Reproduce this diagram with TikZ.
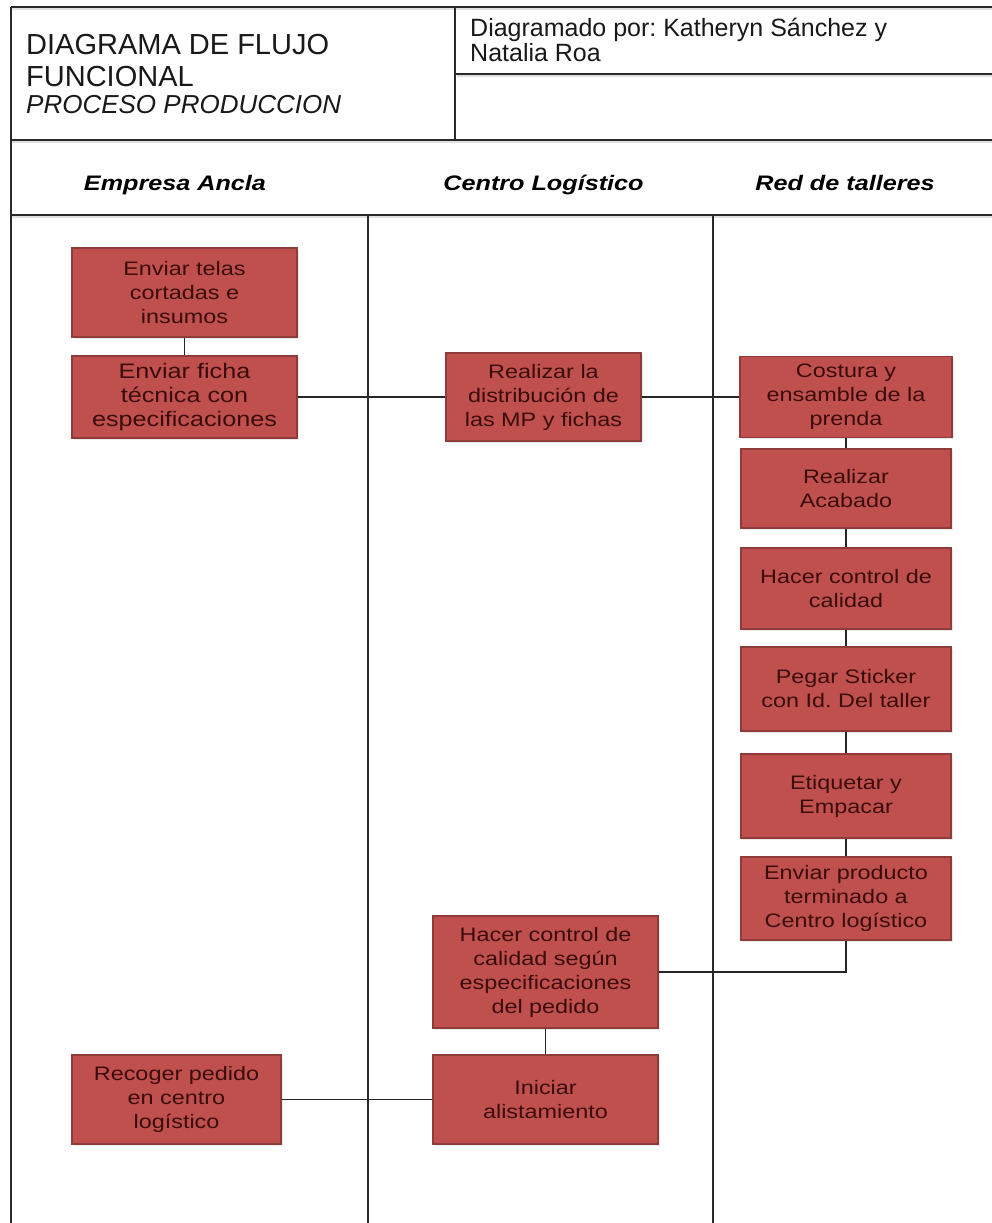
\documentclass[tikz,border=0pt]{standalone}
\usepackage{fontspec}
\setmainfont{Liberation Sans}
\newfontfamily\boxfont[FakeStretch=1.2]{Liberation Sans}
\newfontfamily\lanefont[FakeStretch=1.2]{Liberation Sans}
\usetikzlibrary{shadows}
\definecolor{boxfill}{HTML}{C0504D}
\definecolor{boxline}{HTML}{8E3B39}
\definecolor{boxtext}{HTML}{3A0C0C}
\definecolor{ruleclr}{HTML}{2A2A2A}
\frenchspacing
\begin{document}
\begin{tikzpicture}[x=1pt,y=-1pt,
  hdrline/.style={draw=ruleclr, line width=1.8pt},
  laneline/.style={draw=ruleclr, line width=1.4pt},
  haze/.style={draw=black!12, line width=2pt},
  stepbox/.style={draw=boxline, fill=boxfill, line width=1.5pt, text=boxtext,
    align=center, inner sep=0pt,
    font=\boxfont\fontsize{19.5}{24}\selectfont,
    drop shadow={shadow xshift=1.5pt, shadow yshift=-1.5pt, opacity=0.18}},
  link/.style={draw=black!85, line width=1.3pt},
  titletxt/.style={anchor=base west, inner sep=0pt, text=black!90},
  lanetxt/.style={anchor=base, inner sep=0pt,
    font=\lanefont\bfseries\itshape\fontsize{21}{24}\selectfont}]

\useasboundingbox (0,0) rectangle (992,1223);
\fill[white] (0,0) rectangle (992,1223);

% soft shading under the frame rules
\draw[haze] (12,8.8) -- (992,8.8);
\draw[haze] (12,141.8) -- (992,141.8);
\draw[haze] (12,216.8) -- (992,216.8);
\draw[haze] (457,75.8) -- (992,75.8);

% header frame
\draw[hdrline] (11,7) -- (992,7);
\draw[hdrline] (11,140) -- (992,140);
\draw[hdrline] (11,215) -- (992,215);
\draw[hdrline] (455,7) -- (455,140);
\draw[hdrline] (455,74) -- (992,74);
\draw[hdrline] (11,7) -- (11,1223);

% swimlane dividers
\draw[laneline] (368,215) -- (368,1223);
\draw[laneline] (713,215) -- (713,1223);

% title block
\node[titletxt, font=\fontsize{29}{31}\selectfont] (t1) at (26,55) {DIAGRAMA DE FLUJO};
\node[titletxt, font=\fontsize{29}{31}\selectfont] (t2) at (26,86) {FUNCIONAL};
\node[titletxt, font=\itshape\fontsize{26}{28}\selectfont] (t3) at (26,113) {PROCESO PRODUCCION};
\node[titletxt, font=\fontsize{25}{26}\selectfont] (a1) at (470,37) {Diagramado por: Katheryn Sánchez y};
\node[titletxt, font=\fontsize{25}{26}\selectfont] (a2) at (470,62) {Natalia Roa};

% lane titles
\node[lanetxt] (l1) at (175,190) {Empresa Ancla};
\node[lanetxt] (l2) at (543.5,190) {Centro Logístico};
\node[lanetxt] (l3) at (845,190) {Red de talleres};

% Empresa Ancla
\node[stepbox, minimum width=225pt, minimum height=89pt] (telas) at (184.5,292.5) {Enviar telas\\cortadas e\\insumos};
\node[stepbox, minimum width=225pt, minimum height=82pt, font=\boxfont\fontsize{21}{24}\selectfont] (ficha) at (184.5,397) {Enviar ficha\\técnica con\\especificaciones};
\node[stepbox, minimum width=209pt, minimum height=89pt] (recoger) at (176.5,1099.5) {Recoger pedido\\en centro\\logístico};

% Centro Logistico
\node[stepbox, minimum width=195pt, minimum height=88pt] (distrib) at (543.5,397) {Realizar la\\distribución de\\las MP y fichas};
\node[stepbox, minimum width=225pt, minimum height=112pt] (ctrlped) at (545.5,972) {Hacer control de\\calidad según\\especificaciones\\del pedido};
\node[stepbox, minimum width=225pt, minimum height=89pt] (inicia) at (545.5,1099.5) {Iniciar\\alistamiento};

% Red de talleres
\node[stepbox, minimum width=212pt, minimum height=81pt] (costura) at (846,397) {Costura y\\ensamble de la\\prenda};
\node[stepbox, minimum width=210pt, minimum height=79pt] (acabado) at (846,488.5) {Realizar\\Acabado};
\node[stepbox, minimum width=210pt, minimum height=81pt] (ctrltal) at (846,588.5) {Hacer control de\\calidad};
\node[stepbox, minimum width=210pt, minimum height=84pt] (sticker) at (846,689) {Pegar Sticker\\con Id. Del taller};
\node[stepbox, minimum width=210pt, minimum height=84pt] (empacar) at (846,796) {Etiquetar y\\Empacar};
\node[stepbox, minimum width=210pt, minimum height=83pt] (envprod) at (846,898.5) {Enviar producto\\terminado a\\Centro logístico};

% connectors
\draw[link] (telas) -- (ficha);
\draw[link] (ficha) -- (distrib);
\draw[link] (distrib) -- (costura);
\draw[link] (costura) -- (acabado);
\draw[link] (acabado) -- (ctrltal);
\draw[link] (ctrltal) -- (sticker);
\draw[link] (sticker) -- (empacar);
\draw[link] (empacar) -- (envprod);
\draw[link] (envprod.south) |- (ctrlped.east);
\draw[link] (ctrlped) -- (inicia);
\draw[link] (inicia) -- (recoger);
\end{tikzpicture}
\end{document}
